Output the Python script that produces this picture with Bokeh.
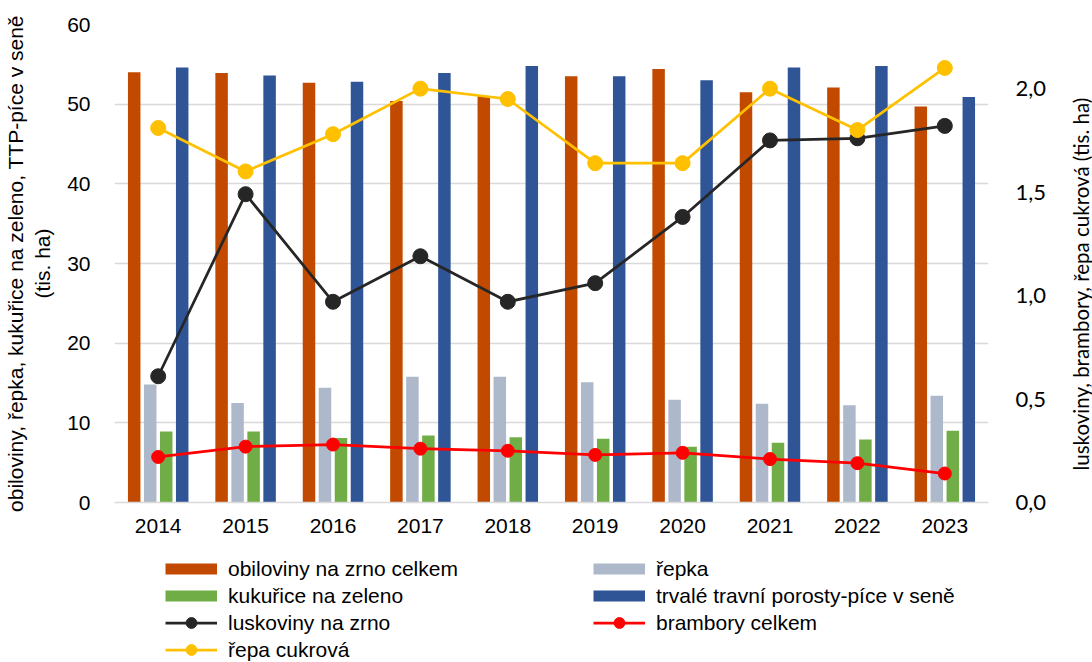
import math
from bokeh.plotting import figure
from bokeh.layouts import column, row
from bokeh.models import (FactorRange, Range1d, LinearAxis, Legend, LegendItem,
                          FixedTicker, CustomJSTickFormatter)
from bokeh.core.properties import value
from bokeh.transform import dodge
from bokeh.embed import file_html
from bokeh.resources import INLINE

years = ["2014", "2015", "2016", "2017", "2018", "2019", "2020", "2021", "2022", "2023"]
obiloviny = [54.0, 53.9, 52.7, 50.4, 51.0, 53.5, 54.4, 51.5, 52.1, 49.7]
repka = [14.8, 12.5, 14.4, 15.8, 15.8, 15.1, 12.9, 12.4, 12.2, 13.4]
kukurice = [8.9, 8.9, 8.1, 8.4, 8.2, 8.0, 7.0, 7.5, 7.9, 9.0]
ttp = [54.6, 53.6, 52.8, 53.9, 54.8, 53.5, 53.0, 54.6, 54.8, 50.9]
luskoviny = [0.61, 1.49, 0.97, 1.19, 0.97, 1.06, 1.38, 1.75, 1.76, 1.82]
brambory = [0.22, 0.27, 0.28, 0.26, 0.25, 0.23, 0.24, 0.21, 0.19, 0.14]
repa_cukrova = [1.81, 1.60, 1.78, 2.00, 1.95, 1.64, 1.64, 2.00, 1.80, 2.10]

left_ticks = [0, 10, 20, 30, 40, 50, 60]
right_ticks = [0, 0.5, 1.0, 1.5, 2.0]
left_title = "obiloviny, řepka, kukuřice na zeleno, TTP-píce v seně\n(tis. ha)"
right_title = "luskoviny, brambory, řepa cukrová (tis. ha)"
labels = {
    "obi": "obiloviny na zrno celkem",
    "rep": "řepka",
    "kuk": "kukuřice na zeleno",
    "ttp": "trvalé travní porosty-píce v seně",
    "lus": "luskoviny na zrno",
    "bra": "brambory celkem",
    "cuk": "řepa cukrová",
}

C_OBI = "#C24A00"
C_REP = "#ADB9CA"
C_KUK = "#70AD47"
C_TTP = "#2F5597"
C_LUS = "#262626"
C_BRA = "#FF0000"
C_CUK = "#FFC000"
GRID = "#D9D9D9"
FONT = "Liberation Sans"
RFONT = "Lato"

src = dict(x=years, obi=obiloviny, rep=repka, kuk=kukurice, ttp=ttp,
           lus=luskoviny, bra=brambory, cuk=repa_cukrova)

BL, FW, BR, BT, FH, BB = 111, 874, 66, 24, 478, 42
H_MAIN = BT + FH + BB
W_MAIN = BL + FW + BR
TOTAL_W = 1092

# ---------------- main chart ----------------
p = figure(x_range=FactorRange(*years, range_padding=0),
           y_range=Range1d(0, 60),
           frame_width=FW, frame_height=FH,
           min_border_left=BL, min_border_right=BR, min_border_top=BT, min_border_bottom=BB,
           output_backend="svg", toolbar_location=None,
           background_fill_color="white", border_fill_color="white", outline_line_color=None)
p.extra_y_ranges = {"right": Range1d(0, 2.31)}

bw = 0.143
for field, off, col in [("obi", -0.2746, C_OBI), ("rep", -0.0915, C_REP),
                        ("kuk", 0.0915, C_KUK), ("ttp", 0.2746, C_TTP)]:
    p.vbar(x=dodge("x", off, range=p.x_range), top=field, width=bw, source=src,
           fill_color=col, line_color=None)

for field, col, size in [("lus", C_LUS, 15), ("bra", C_BRA, 13), ("cuk", C_CUK, 15)]:
    p.line(x="x", y=field, source=src, line_color=col, line_width=2.75, y_range_name="right")
    p.scatter(x="x", y=field, source=src, size=size, fill_color=col, line_color=col,
              y_range_name="right")

p.xgrid.grid_line_color = None
p.ygrid.grid_line_color = GRID
p.ygrid.grid_line_width = 1.5
p.yaxis.ticker = FixedTicker(ticks=left_ticks)
ya = p.yaxis[0]
ya.axis_line_color = None
ya.major_tick_line_color = None
ya.minor_tick_line_color = None
ya.major_label_standoff = 18
ya.major_label_text_font = FONT
ya.major_label_text_font_size = "21px"
ya.major_label_text_color = "black"
ya.axis_label = left_title
ya.axis_label_text_font = FONT
ya.axis_label_text_font_size = "21px"
ya.axis_label_text_font_style = "normal"
ya.axis_label_text_color = "black"
ya.axis_label_standoff = 10

xa = p.xaxis[0]
xa.axis_line_color = GRID
xa.axis_line_width = 1.5
xa.major_tick_line_color = None
xa.minor_tick_line_color = None
xa.major_label_standoff = 10
xa.major_label_text_font = FONT
xa.major_label_text_font_size = "21px"
xa.major_label_text_color = "black"

ra = LinearAxis(y_range_name="right", ticker=FixedTicker(ticks=right_ticks),
                formatter=CustomJSTickFormatter(code="return tick.toFixed(1).replace('.', ',');"))
ra.axis_line_color = None
ra.major_tick_line_color = None
ra.minor_tick_line_color = None
ra.major_label_standoff = 21
ra.major_label_text_font = RFONT
ra.major_label_text_font_size = "22px"
ra.major_label_text_color = "black"
p.add_layout(ra, "right")

# ---------------- right axis title ----------------
TW = TOTAL_W - W_MAIN
t = figure(width=TW, height=H_MAIN, min_border=0, x_range=Range1d(0, TW), y_range=Range1d(0, H_MAIN),
           output_backend="svg", toolbar_location=None, outline_line_color=None,
           background_fill_color="white", border_fill_color="white")
t.axis.visible = False
t.grid.grid_line_color = None
t.text(x=[1077 - W_MAIN], y=[H_MAIN - 295.5], text=[right_title], angle=math.pi / 2,
       text_align="center", text_baseline="middle", text_font=value(RFONT),
       text_font_size="20.5px", text_color="black")

# ---------------- legend ----------------
LH = 662 - H_MAIN
lf = figure(width=TOTAL_W, height=LH, min_border=0,
            x_range=Range1d(0, 1), y_range=Range1d(0, 1),
            output_backend="svg", toolbar_location=None, outline_line_color=None,
            background_fill_color="white", border_fill_color="white")
lf.axis.visible = False
lf.grid.grid_line_color = None

# proxy renderers: a point outside the visible range, used only for legend swatches
prox = {}
for key, col in [("obi", C_OBI), ("rep", C_REP), ("kuk", C_KUK), ("ttp", C_TTP)]:
    prox[key] = [lf.line(x=[-5, -4], y=[-5, -4], line_color=col, line_width=11, line_cap="butt")]
for key, col in [("lus", C_LUS), ("bra", C_BRA), ("cuk", C_CUK)]:
    prox[key] = [lf.line(x=[-5, -4], y=[-5, -4], line_color=col, line_width=2.75),
                 lf.scatter(x=[-5], y=[-5], size=11, fill_color=col, line_color=col)]

def make_legend(keys, loc):
    lg = Legend(items=[LegendItem(label=labels[k], renderers=prox[k]) for k in keys],
                location=loc, orientation="vertical",
                glyph_width=52, glyph_height=27, label_height=20, label_standoff=11,
                spacing=0, padding=0, margin=0, border_line_color=None,
                background_fill_alpha=0,
                label_text_font=FONT, label_text_font_size="21px", label_text_color="black")
    lf.add_layout(lg, "center")

make_legend(["obi", "kuk", "lus", "cuk"], (165, -1))
make_legend(["rep", "ttp", "bra"], (593, 26))

layout = column(row(p, t, spacing=0), lf, spacing=0)

open("out.html", "w").write(file_html(layout, INLINE))
